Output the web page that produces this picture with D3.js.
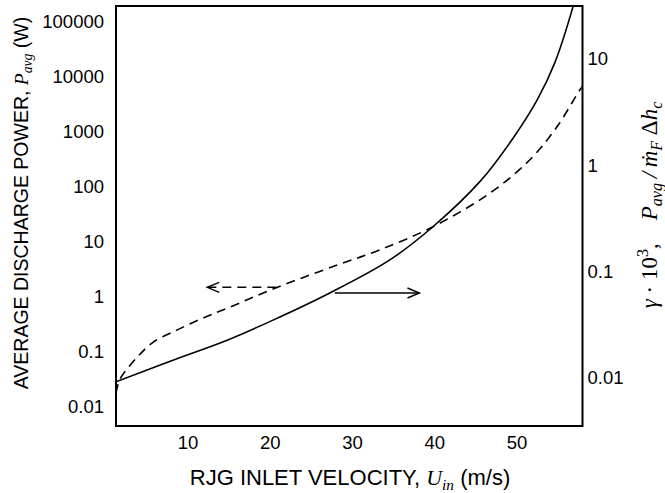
<!DOCTYPE html>
<html>
<head>
<meta charset="utf-8">
<script src="https://cdn.jsdelivr.net/npm/d3@7"></script>
<style>
  body { margin: 0; background: #fff; }
  svg { display: block; }
</style>
</head>
<body>
<div id="chart"></div>
<script>
// x axis (RJG inlet velocity, m/s)
const velocityTicks = [10, 20, 30, 40, 50];
// left axis: average discharge power (W)
const powerTicks = [0.01, 0.1, 1, 10, 100, 1000, 10000, 100000];
// right axis: gamma * 10^3
const gammaTicks = [0.01, 0.1, 1, 10];

// dashed curve -> left axis
const powerU = [1.3, 1.7, 2.2, 3.9, 5.8, 8.7, 11.9, 14.9, 20.4, 28.2, 33.4, 39.8, 46.8, 51.6, 54.9, 57.7, 58.1];
const powerP = [0.018, 0.03, 0.04, 0.081, 0.15, 0.25, 0.415, 0.63, 1.4, 3.8, 7.2, 18.8, 78, 310, 1230, 5800, 6900];

// solid curve -> right axis
const gammaU = [1.3, 7.9, 14.9, 20.4, 27.3, 34.6, 39.8, 45.6, 49.6, 52.5, 54.7, 56.9, 57.5];
const gammaV = [0.0092, 0.0144, 0.0228, 0.035, 0.063, 0.129, 0.263, 0.71, 1.81, 4.1, 9.4, 31.6, 48];

// arrows telling which axis a curve belongs to
const powerArrowU = [20.8, 12.4];
const powerArrowP = 1.5;
const gammaArrowU = [27.9, 38.2];
const gammaArrowV = 0.063;

const width = 665;
const height = 493;
const plotLeft = 116;
const plotRight = 582.5;
const plotTop = 6;
const plotBottom = 426;

const sansFont = "Liberation Sans, Arial, sans-serif";
const serifFont = "Liberation Serif, Times New Roman, serif";

const svg = d3.select("#chart")
    .append("svg")
    .attr("width", width)
    .attr("height", height);

const x = d3.scaleLinear().domain([10, 50]).range([187.5, 516.5]);
const yLeft = d3.scaleLog().domain([0.01, 100000]).range([407, 22]);
const yRight = d3.scaleLog().domain([0.01, 10]).range([378, 59]);

svg.append("clipPath")
    .attr("id", "plot-clip")
    .append("rect")
    .attr("x", plotLeft)
    .attr("y", plotTop)
    .attr("width", plotRight - plotLeft)
    .attr("height", plotBottom - plotTop);

// axes without tick marks, labels only
const xAxis = svg.append("g")
    .attr("transform", `translate(0,${plotBottom})`)
    .call(d3.axisBottom(x).tickValues(velocityTicks).tickSize(0).tickPadding(10).tickFormat(d3.format("d")));

const leftAxis = svg.append("g")
    .attr("transform", `translate(${plotLeft},0)`)
    .call(d3.axisLeft(yLeft).tickValues(powerTicks).tickSize(0).tickPadding(12).tickFormat(d => String(d)));

const rightAxis = svg.append("g")
    .attr("transform", `translate(${plotRight},0)`)
    .call(d3.axisRight(yRight).tickValues(gammaTicks).tickSize(0).tickPadding(5).tickFormat(d => String(d)));

[xAxis, leftAxis, rightAxis].forEach(a =>
{
    a.select(".domain").remove();
    a.selectAll("text")
        .attr("font-family", sansFont)
        .attr("font-size", 18.5)
        .attr("fill", "#000");
});

const curves = svg.append("g").attr("clip-path", "url(#plot-clip)");

const powerLine = d3.line()
    .x(i => x(powerU[i]))
    .y(i => yLeft(powerP[i]))
    .curve(d3.curveCatmullRom.alpha(0.5));

const gammaLine = d3.line()
    .x(i => x(gammaU[i]))
    .y(i => yRight(gammaV[i]))
    .curve(d3.curveCatmullRom.alpha(0.5));

curves.append("path")
    .attr("d", powerLine(d3.range(powerU.length)))
    .attr("fill", "none")
    .attr("stroke", "#000")
    .attr("stroke-width", 1.6)
    .attr("stroke-dasharray", "9,6");

curves.append("path")
    .attr("d", gammaLine(d3.range(gammaU.length)))
    .attr("fill", "none")
    .attr("stroke", "#000")
    .attr("stroke-width", 1.6);

const drawArrow = (x0, x1, yPix, dashed) =>
{
    const dir = x1 > x0 ? 1 : -1;
    const g = svg.append("g")
        .attr("fill", "none")
        .attr("stroke", "#000")
        .attr("stroke-width", 1.4);
    g.append("line")
        .attr("x1", x0).attr("y1", yPix)
        .attr("x2", x1).attr("y2", yPix)
        .attr("stroke-dasharray", dashed ? "9,6" : null);
    g.append("path")
        .attr("d", `M${x1 - dir * 12},${yPix - 5}L${x1},${yPix}L${x1 - dir * 12},${yPix + 5}`);
};

drawArrow(x(powerArrowU[0]), x(powerArrowU[1]), yLeft(powerArrowP), true);
drawArrow(x(gammaArrowU[0]), x(gammaArrowU[1]), yRight(gammaArrowV), false);

// frame
svg.append("rect")
    .attr("x", plotLeft)
    .attr("y", plotTop)
    .attr("width", plotRight - plotLeft)
    .attr("height", plotBottom - plotTop)
    .attr("fill", "none")
    .attr("stroke", "#000")
    .attr("stroke-width", 2);

// mixed sans / italic serif titles
const richText = (el, parts, size) =>
{
    let shift = 0;
    parts.forEach(p =>
    {
        const target = p.sub ? size * 0.22 : (p.sup ? -size * 0.38 : 0);
        const t = el.append("tspan")
            .text(p.t)
            .attr("font-family", p.serif ? serifFont : sansFont)
            .attr("font-style", p.italic ? "italic" : "normal")
            .attr("font-size", (p.sub || p.sup) ? size * 0.7 : size);
        if (target !== shift)
        {
            t.attr("dy", target - shift);
            shift = target;
        }
    });
};

const xTitle = svg.append("text")
    .attr("x", 350)
    .attr("y", 485)
    .attr("text-anchor", "middle")
    .attr("fill", "#000");
richText(xTitle, [
    {t: "RJG INLET VELOCITY, "},
    {t: "U", serif: true, italic: true},
    {t: "in", serif: true, italic: true, sub: true},
    {t: " (m/s)"}
], 22);

const leftTitle = svg.append("text")
    .attr("transform", `translate(28,203) rotate(-90)`)
    .attr("text-anchor", "middle")
    .attr("fill", "#000");
richText(leftTitle, [
    {t: "AVERAGE DISCHARGE POWER, "},
    {t: "P", serif: true, italic: true},
    {t: "avg", serif: true, italic: true, sub: true},
    {t: " (W)"}
], 19.5);

const rightTitle = svg.append("text")
    .attr("transform", `translate(657,205) rotate(-90)`)
    .attr("text-anchor", "middle")
    .attr("fill", "#000");
richText(rightTitle, [
    {t: "γ", serif: true, italic: true},
    {t: " · 10", serif: true},
    {t: "3", serif: true, sup: true},
    {t: ",\u2002\u2002", serif: true},
    {t: "P", serif: true, italic: true},
    {t: "avg", serif: true, italic: true, sub: true},
    {t: "\u2009/\u2009", serif: true, italic: true},
    {t: "ṁ", serif: true, italic: true},
    {t: "F", serif: true, italic: true, sub: true},
    {t: " Δ", serif: true},
    {t: "h", serif: true, italic: true},
    {t: "c", serif: true, italic: true, sub: true}
], 23);
</script>
</body>
</html>
